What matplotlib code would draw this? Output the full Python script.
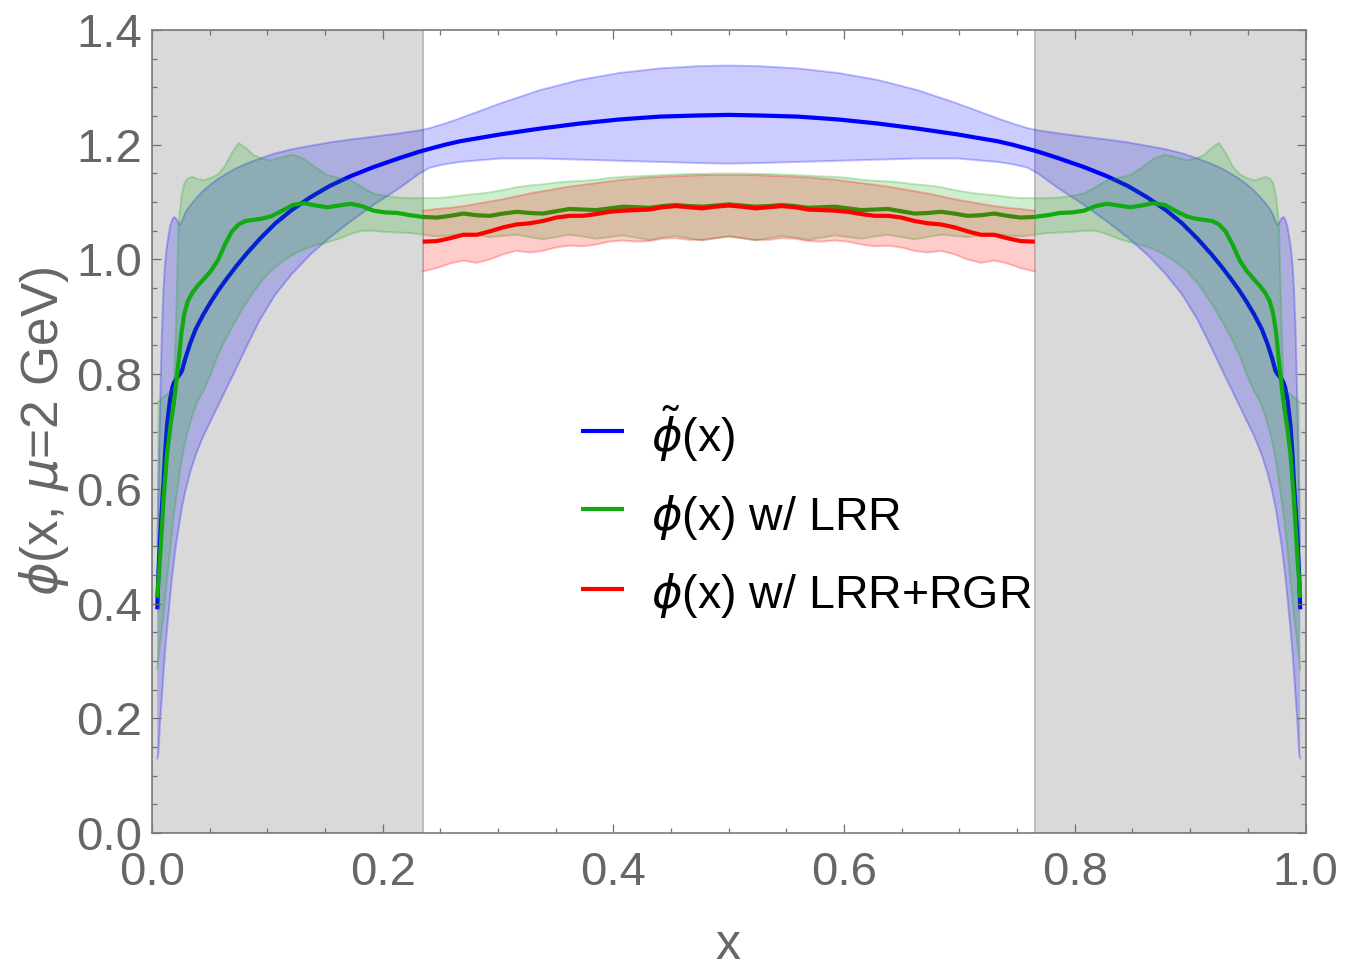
import numpy as np
import matplotlib
matplotlib.use("Agg")
import matplotlib.pyplot as plt
from matplotlib.ticker import MultipleLocator, FixedLocator, FixedFormatter

plt.rcParams['font.family'] = ['Liberation Sans', 'DejaVu Sans']
plt.rcParams['mathtext.fontset'] = 'custom'
plt.rcParams['mathtext.rm'] = 'Liberation Sans'
plt.rcParams['mathtext.it'] = 'DejaVu Sans:italic'
plt.rcParams['mathtext.bf'] = 'Liberation Sans:bold'

# ---------------------------------------------------------------------------
# Distribution amplitudes phi(x) at mu = 2 GeV.  They are symmetric under
# x -> 1 - x, so every curve is tabulated on 0 < x <= 0.5 only.
# ---------------------------------------------------------------------------

# phi~(x): central value and error band
x_blue = [0.0046, 0.0055, 0.0069, 0.0085, 0.0100, 0.0113, 0.0130, 0.0156, 0.0175,
          0.0191, 0.0210, 0.0230, 0.0243, 0.0260, 0.0290, 0.0330, 0.0380, 0.0445,
          0.0510, 0.0578, 0.0650, 0.0730, 0.0820, 0.0936, 0.1070, 0.1210, 0.1370,
          0.1540, 0.1720, 0.1920, 0.2150, 0.2320, 0.2410, 0.2540, 0.2670, 0.3020,
          0.3360, 0.3710, 0.4050, 0.4400, 0.4740, 0.5000]
blue_mid = [0.390, 0.450, 0.510, 0.565, 0.610, 0.660, 0.710, 0.755, 0.775,
            0.785, 0.792, 0.797, 0.800, 0.806, 0.828, 0.853, 0.879, 0.904,
            0.926, 0.947, 0.967, 0.988, 1.010, 1.036, 1.063, 1.086, 1.108,
            1.128, 1.145, 1.161, 1.177, 1.188, 1.193, 1.200, 1.206, 1.218,
            1.228, 1.237, 1.244, 1.249, 1.251, 1.252]
blue_hi = [0.500, 0.600, 0.737, 0.870, 0.950, 0.993, 1.025, 1.057, 1.069,
           1.074, 1.071, 1.063, 1.060, 1.067, 1.082, 1.094, 1.106, 1.120,
           1.131, 1.141, 1.150, 1.159, 1.167, 1.176, 1.185, 1.192, 1.198,
           1.204, 1.209, 1.214, 1.220, 1.225, 1.229, 1.237, 1.246, 1.272,
           1.295, 1.313, 1.325, 1.333, 1.337, 1.338]
blue_lo = [0.130, 0.139, 0.190, 0.235, 0.280, 0.315, 0.355, 0.410, 0.447,
           0.475, 0.505, 0.530, 0.548, 0.568, 0.597, 0.628, 0.660, 0.692,
           0.719, 0.747, 0.777, 0.810, 0.848, 0.895, 0.939, 0.974, 1.008,
           1.038, 1.066, 1.095, 1.125, 1.150, 1.160, 1.166, 1.170, 1.176,
           1.176, 1.174, 1.172, 1.170, 1.168, 1.167]

# phi(x) w/ LRR
x_green = [0.0045, 0.0070, 0.0100, 0.0130, 0.0160, 0.0190, 0.0210, 0.0230, 0.0255,
           0.0280, 0.0310, 0.0350, 0.0400, 0.0450, 0.0510, 0.0570, 0.0630, 0.0690,
           0.0750, 0.0810, 0.0880, 0.0950, 0.1030, 0.1120, 0.1220, 0.1320, 0.1420,
           0.1520, 0.1620, 0.1720, 0.1820, 0.1920, 0.2020, 0.2130, 0.2240, 0.2355,
           0.2470, 0.2585, 0.2700, 0.2815, 0.2930, 0.3045, 0.3160, 0.3275, 0.3390,
           0.3505, 0.3620, 0.3735, 0.3850, 0.3965, 0.4080, 0.4195, 0.4310, 0.4425,
           0.4540, 0.4655, 0.4770, 0.4885, 0.5000]
green_mid = [0.410, 0.480, 0.580, 0.660, 0.710, 0.750, 0.785, 0.822, 0.872,
             0.905, 0.927, 0.942, 0.955, 0.966, 0.980, 0.998, 1.025, 1.048,
             1.061, 1.067, 1.069, 1.071, 1.075, 1.084, 1.095, 1.098, 1.094,
             1.091, 1.094, 1.097, 1.093, 1.085, 1.082, 1.081, 1.077, 1.074,
             1.073, 1.076, 1.080, 1.077, 1.076, 1.080, 1.083, 1.081, 1.080,
             1.084, 1.088, 1.087, 1.086, 1.089, 1.092, 1.091, 1.090, 1.093,
             1.095, 1.093, 1.092, 1.094, 1.096]
green_hi = [0.750, 0.755, 0.760, 0.765, 0.770, 0.780, 0.900, 1.060, 1.110,
            1.133, 1.141, 1.144, 1.140, 1.138, 1.142, 1.148, 1.162, 1.185,
            1.203, 1.195, 1.182, 1.176, 1.173, 1.178, 1.183, 1.175, 1.160,
            1.147, 1.142, 1.138, 1.126, 1.115, 1.111, 1.108, 1.107, 1.107,
            1.107, 1.109, 1.112, 1.114, 1.117, 1.121, 1.126, 1.129, 1.131,
            1.134, 1.136, 1.137, 1.139, 1.142, 1.144, 1.145, 1.146, 1.147,
            1.148, 1.149, 1.149, 1.150, 1.150]
green_lo = [0.285, 0.330, 0.380, 0.440, 0.500, 0.555, 0.585, 0.612, 0.648,
            0.675, 0.700, 0.728, 0.755, 0.772, 0.800, 0.832, 0.858, 0.880,
            0.902, 0.922, 0.943, 0.962, 0.980, 0.995, 1.008, 1.018, 1.025,
            1.030, 1.036, 1.044, 1.050, 1.050, 1.048, 1.047, 1.046, 1.043,
            1.040, 1.042, 1.045, 1.042, 1.039, 1.041, 1.043, 1.039, 1.035,
            1.039, 1.043, 1.040, 1.036, 1.039, 1.042, 1.038, 1.034, 1.038,
            1.041, 1.037, 1.033, 1.037, 1.040]

# phi(x) w/ LRR+RGR (only shown inside the trusted window)
x_red = [0.2347, 0.2470, 0.2585, 0.2700, 0.2815, 0.2930, 0.3045, 0.3160, 0.3275,
         0.3390, 0.3505, 0.3620, 0.3735, 0.3850, 0.3965, 0.4080, 0.4195, 0.4310,
         0.4425, 0.4540, 0.4655, 0.4770, 0.4885, 0.5000]
red_mid = [1.031, 1.032, 1.037, 1.043, 1.043, 1.049, 1.056, 1.061, 1.063,
           1.067, 1.073, 1.076, 1.076, 1.079, 1.083, 1.085, 1.086, 1.087,
           1.091, 1.093, 1.091, 1.089, 1.092, 1.094]
red_hi = [1.085, 1.088, 1.090, 1.093, 1.097, 1.101, 1.105, 1.110, 1.115,
          1.119, 1.123, 1.127, 1.130, 1.133, 1.136, 1.139, 1.141, 1.143,
          1.144, 1.145, 1.146, 1.147, 1.147, 1.147]
red_lo = [0.979, 0.985, 0.993, 0.998, 0.994, 1.000, 1.009, 1.015, 1.012,
          1.015, 1.021, 1.024, 1.023, 1.026, 1.031, 1.033, 1.031, 1.032,
          1.036, 1.037, 1.034, 1.034, 1.037, 1.040]

# excluded end-point regions
x_cut_lo, x_cut_hi = 0.2347, 0.7653

legend_labels = [r'$\tilde{\phi}$(x)', r'$\phi$(x) w/ LRR', r'$\phi$(x) w/ LRR+RGR']
x_ticks = [0.0, 0.2, 0.4, 0.6, 0.8, 1.0]
x_ticklabels = ['0.0', '0.2', '0.4', '0.6', '0.8', '1.0']
y_ticks = [0.0, 0.2, 0.4, 0.6, 0.8, 1.0, 1.2, 1.4]
y_ticklabels = ['0.0', '0.2', '0.4', '0.6', '0.8', '1.0', '1.2', '1.4']


def both_halves(xh, *curves):
    """Extend half-range tables to 0 < x < 1 using phi(x) = phi(1 - x)."""
    xh = np.asarray(xh, dtype=float)
    tail = slice(-2, None, -1) if np.isclose(xh[-1], 0.5) else slice(None, None, -1)
    xf = np.concatenate([xh, 1.0 - xh[tail]])
    out = [xf]
    for c in curves:
        c = np.asarray(c, dtype=float)
        out.append(np.concatenate([c, c[tail]]))
    return out


xb, bm, bh, bl = both_halves(x_blue, blue_mid, blue_hi, blue_lo)
xg, gm, gh, gl = both_halves(x_green, green_mid, green_hi, green_lo)
xr, rm, rh, rl = both_halves(x_red, red_mid, red_hi, red_lo)

c_blue = '#0000ff'
c_green = '#11aa11'
c_red = '#ff0000'
c_text = '#666666'

fig = plt.figure(figsize=(13.49, 9.69), dpi=100)
ax = fig.add_axes([152 / 1349, 136 / 969, 1153.5 / 1349, 803 / 969])

# shaded end-point regions (behind everything)
for a, b in [(0.0, x_cut_lo), (x_cut_hi, 1.0)]:
    ax.axvspan(a, b, facecolor='#d9d9d9', edgecolor='#b4b4b4', lw=1.2, zorder=0)


def band(x, lo, mid, hi, color, z):
    ax.fill_between(x, lo, hi, facecolor=color, alpha=0.2, lw=0, zorder=z)
    ax.plot(x, lo, color=color, alpha=0.25, lw=1.4, zorder=z)
    ax.plot(x, hi, color=color, alpha=0.25, lw=1.4, zorder=z)
    ax.plot(x, mid, color=color, lw=3.0, zorder=z + 0.5,
            solid_capstyle='butt', solid_joinstyle='round')


band(xb, bl, bm, bh, c_blue, 1)
band(xg, gl, gm, gh, c_green, 2)
band(xr, rl, rm, rh, c_red, 3)

ax.set_xlim(0, 1)
ax.set_ylim(0, 1.4)

ax.xaxis.set_major_locator(FixedLocator(x_ticks))
ax.xaxis.set_major_formatter(FixedFormatter(x_ticklabels))
ax.yaxis.set_major_locator(FixedLocator(y_ticks))
ax.yaxis.set_major_formatter(FixedFormatter(y_ticklabels))
ax.xaxis.set_minor_locator(MultipleLocator(0.05))
ax.yaxis.set_minor_locator(MultipleLocator(0.05))

ax.tick_params(which='both', direction='in', top=True, right=True,
               color='#707070', width=0.9)
ax.tick_params(which='major', length=6.5)
ax.tick_params(which='minor', length=3.8)
ax.tick_params(axis='x', which='major', labelsize=34, labelcolor=c_text, pad=13)
ax.tick_params(axis='y', which='major', labelsize=34, labelcolor=c_text, pad=7)
for s in ax.spines.values():
    s.set_color('#7a7a7a')
    s.set_linewidth(1.2)
    s.set_zorder(10)

fig.text(44 / 1349, 1 - 431 / 969, r'$\phi$(x, $\mu$=2 GeV)', rotation=90,
         ha='center', va='center', fontsize=37, color=c_text)
fig.text(728 / 1349, 1 - 946 / 969, 'x', ha='center', va='center',
         fontsize=36, color=c_text)

# legend drawn as short line keys plus labels
key_x0, key_x1, txt_x = 0.372, 0.409, 0.433
key_y = [0.5006, 0.4035, 0.3039]
base_y = [0.4745, 0.3773, 0.2802]
for col, lab, ky, by in zip([c_blue, c_green, c_red], legend_labels, key_y, base_y):
    ax.plot([key_x0, key_x1], [ky, ky], transform=ax.transAxes, color=col,
            lw=3.0, solid_capstyle='butt', zorder=20)
    ax.text(txt_x, by, lab, transform=ax.transAxes, ha='left', va='baseline',
            fontsize=33.5, color='black', zorder=20)

fig.savefig('out.png', dpi=100)
